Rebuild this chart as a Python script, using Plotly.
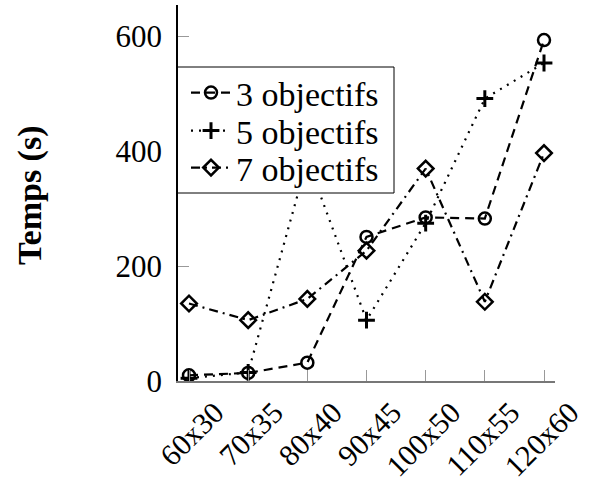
import plotly.graph_objects as go

categories = ["60x30", "70x35", "80x40", "90x45", "100x50", "110x55", "120x60"]
obj3 = [10, 14, 32, 251, 285, 283, 594]
obj5 = [5, 15, 385, 106, 275, 492, 554]
obj7 = [135, 106, 143, 227, 370, 138, 397]
yticks = [0, 200, 400, 600]
series_names = ["3 objectifs", "5 objectifs", "7 objectifs"]

FONT = "Liberation Serif"
x_idx = list(range(len(categories)))

# plot area in pixels
L, R, T, B = 178, 555, 5, 381
W, H = R - L, B - T
def px(x):
    return (x - L) / W
def py(y):
    return (B - y) / H

fig = go.Figure()
fig.add_trace(go.Scatter(
    x=x_idx, y=obj3, name=series_names[0], mode="lines+markers", legend="legend",
    line=dict(color="black", width=2.2, dash="9px,6px"),
    marker=dict(symbol="circle-open", size=12, color="black", line=dict(width=2.5)),
))
fig.add_trace(go.Scatter(
    x=x_idx, y=obj5, name=series_names[1], mode="lines+markers", legend="legend2",
    line=dict(color="black", width=2.2, dash="2px,6px"),
    marker=dict(symbol="cross-thin-open", size=12, color="black", line=dict(width=3, color="black")),
))
fig.add_trace(go.Scatter(
    x=x_idx, y=obj7, name=series_names[2], mode="lines+markers", legend="legend3",
    line=dict(color="black", width=2.2, dash="9px,5px,2px,5px"),
    marker=dict(symbol="diamond-open", size=12, color="black", line=dict(width=2.5)),
))

def leg(ycenter):
    return dict(x=px(186), y=py(ycenter), xanchor="left", yanchor="middle",
                borderwidth=0, bgcolor="rgba(0,0,0,0)",
                font=dict(family=FONT, size=34), itemwidth=40)

fig.update_layout(
    width=590, height=481,
    margin=dict(l=L, r=590 - R, t=T, b=481 - B, autoexpand=False),
    paper_bgcolor="white", plot_bgcolor="white",
    font=dict(family=FONT, size=30, color="black"),
    showlegend=True,
    legend=leg(93), legend2=leg(131), legend3=leg(168),
    shapes=[dict(type="rect", xref="paper", yref="paper",
                 x0=px(177.5), x1=px(394), y0=py(193), y1=py(67),
                 line=dict(color="black", width=1), fillcolor="white", layer="above")],
    xaxis=dict(
        range=[-0.186, 6.186], tickmode="array", tickvals=x_idx, ticktext=categories,
        tickangle=-45, showgrid=False, zeroline=False, automargin=False,
        showline=True, linecolor="#777", linewidth=2,
        ticks="inside", ticklen=11, tickcolor="#999", tickwidth=1,
        tickfont=dict(family=FONT, size=30),
        ticklabelshift=26, ticklabelstandoff=0,
    ),
    yaxis=dict(
        range=[0, 655], tickmode="array", tickvals=yticks,
        showgrid=False, zeroline=False, automargin=False,
        showline=True, linecolor="black", linewidth=1.5,
        ticks="inside", ticklen=11, tickcolor="#999", tickwidth=1,
        tickfont=dict(family=FONT, size=31), ticklabelstandoff=8,
    ),
    annotations=[dict(
        text="<b>Temps (s)</b>", xref="paper", yref="paper",
        x=px(30), y=py(195), xanchor="center", yanchor="middle",
        textangle=-90, showarrow=False, font=dict(family=FONT, size=34, color="black"),
    )],
)

fig.write_html("out.html", config={"displayModeBar": False},
               post_script="document.body.style.margin='0px';")
